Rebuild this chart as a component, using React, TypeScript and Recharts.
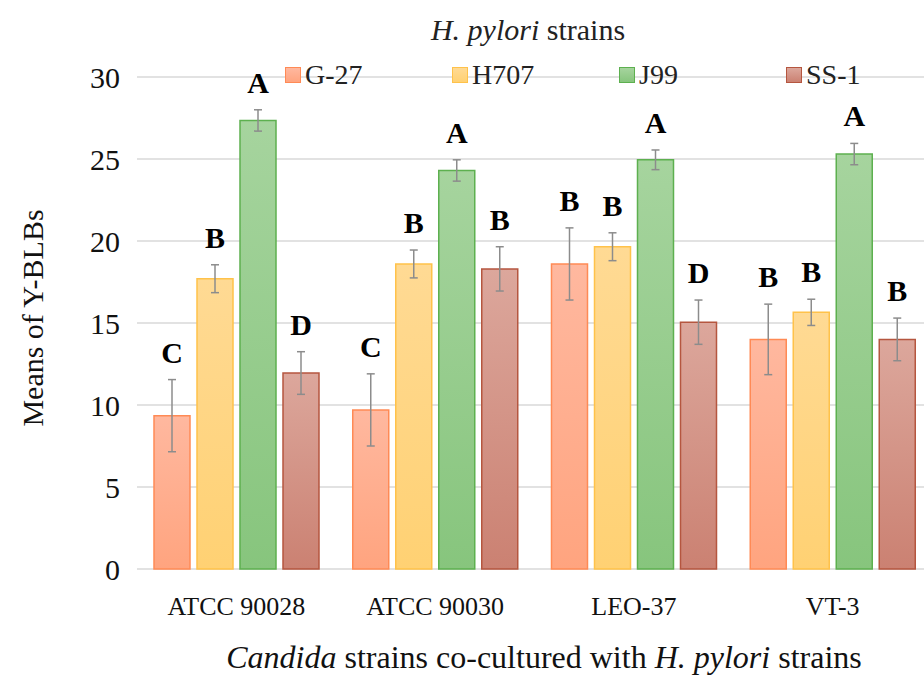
import React from "react";
import {
  Bar,
  BarChart,
  CartesianGrid,
  ErrorBar,
  Label,
  LabelList,
  Legend,
  XAxis,
  YAxis,
} from "recharts";

const strains = ["ATCC 90028", "ATCC 90030", "LEO-37", "VT-3"];

const g27 = [9.35, 9.7, 18.6, 14.0];
const h707 = [17.7, 18.6, 19.65, 15.65];
const j99 = [27.35, 24.3, 24.95, 25.3];
const ss1 = [11.95, 18.3, 15.05, 14.0];

const g27Err = [2.2, 2.2, 2.2, 2.15];
const h707Err = [0.85, 0.85, 0.85, 0.8];
const j99Err = [0.65, 0.65, 0.6, 0.65];
const ss1Err = [1.3, 1.35, 1.35, 1.3];

const g27Sig = ["C", "C", "B", "B"];
const h707Sig = ["B", "B", "B", "B"];
const j99Sig = ["A", "A", "A", "A"];
const ss1Sig = ["D", "B", "D", "B"];

const yTicks = [0, 5, 10, 15, 20, 25, 30];

const FONT = "Liberation Serif";

const series = [
  { key: "g27", name: "G-27", vals: g27, errs: g27Err, sig: g27Sig, top: "#FFB89F", bottom: "#FFA47F", stroke: "#FF8A55" },
  { key: "h707", name: "H707", vals: h707, errs: h707Err, sig: h707Sig, top: "#FFDA94", bottom: "#FFD173", stroke: "#FFC24A" },
  { key: "j99", name: "J99", vals: j99, errs: j99Err, sig: j99Sig, top: "#A6D49E", bottom: "#87C57D", stroke: "#5DB04F" },
  { key: "ss1", name: "SS-1", vals: ss1, errs: ss1Err, sig: ss1Sig, top: "#DCA79C", bottom: "#CB8172", stroke: "#B5563F" },
];

const data = strains.map((strain, i) => {
  const row: Record<string, string | number> = { strain };
  series.forEach((s) => {
    row[s.key] = s.vals[i];
    row[s.key + "Err"] = s.errs[i];
    row[s.key + "Sig"] = s.sig[i];
  });
  return row;
});

// letter sits above the error bar: offset from bar top using the bar's own px/unit
const sigLabel = (vals: number[], errs: number[]) => (props: any) => {
  const { x, y, width, height, value, index } = props;
  const v = vals[index];
  const pxPerUnit = v ? Math.abs(height) / v : 0;
  const ty = y - errs[index] * pxPerUnit - 17;
  return (
    <text
      x={x + width / 2}
      y={ty}
      textAnchor="middle"
      fontFamily={FONT}
      fontWeight="bold"
      fontSize={30}
      fill="#000"
    >
      {value}
    </text>
  );
};

const LegendBox = (props: any) => {
  const payload = props.payload || [];
  return (
    <div style={{ position: "relative", height: 0, fontFamily: FONT, color: "#222" }}>
      <div
        style={{
          position: "absolute",
          top: 14,
          left: 378,
          width: 300,
          textAlign: "center",
          fontSize: 30,
          lineHeight: "32px",
          whiteSpace: "nowrap",
          fontFamily: FONT,
        }}
      >
        <i>H. pylori</i> strains
      </div>
      <div style={{ position: "absolute", top: 60, left: 285, display: "flex" }}>
        {payload.map((p: any) => {
          const s = series.find((d) => d.key === p.dataKey) || series[0];
          return (
            <div key={s.key} style={{ width: 167, display: "flex", alignItems: "center", height: 30 }}>
              <span
                style={{
                  display: "inline-block",
                  width: 14,
                  height: 14,
                  background: `linear-gradient(${s.top}, ${s.bottom})`,
                  border: `1.5px solid ${s.stroke}`,
                  marginRight: 4,
                }}
              />
              <span style={{ fontSize: 28, lineHeight: "30px", whiteSpace: "nowrap", fontFamily: FONT }}>
                {s.name}
              </span>
            </div>
          );
        })}
      </div>
    </div>
  );
};

export default function App() {
  return (
    <div
      style={{
        position: "absolute",
        left: 0,
        top: 0,
        width: 924,
        height: 677,
        overflow: "hidden",
        background: "#fff",
      }}
    >
      <BarChart
        width={932}
        height={677}
        data={data}
        margin={{ top: 77, right: 0, bottom: 0, left: 0 }}
        barSize={36}
        barGap={7}
      >
        <defs>
          {series.map((s) => (
            <linearGradient key={s.key} id={`grad-${s.key}`} x1="0" y1="0" x2="0" y2="1">
              <stop offset="0%" stopColor={s.top} />
              <stop offset="100%" stopColor={s.bottom} />
            </linearGradient>
          ))}
        </defs>
        <CartesianGrid vertical={false} stroke="#D9D9D9" strokeWidth={1.5} />
        <XAxis
          dataKey="strain"
          axisLine={false}
          tickLine={false}
          height={108}
          tickMargin={22}
          interval={0}
          tick={{ fontSize: 26, fill: "#111", fontFamily: FONT }}
        >
          <Label
            content={(p: any) => {
              const vb = p.viewBox || { x: 137, y: 569 };
              return (
                <text x={544} y={vb.y + 99} textAnchor="middle" fontFamily={FONT} fontSize={32} fill="#111">
                  <tspan fontStyle="italic">Candida</tspan>
                  <tspan> strains co-cultured with </tspan>
                  <tspan fontStyle="italic">H. pylori</tspan>
                  <tspan> strains</tspan>
                </text>
              );
            }}
          />
        </XAxis>
        <YAxis
          type="number"
          domain={[0, 30]}
          ticks={yTicks}
          axisLine={false}
          tickLine={false}
          width={137}
          tickMargin={11}
          tick={{ fontSize: 30, fill: "#111", fontFamily: FONT }}
        >
          <Label
            content={(p: any) => {
              const vb = p.viewBox || { x: 0, y: 77, height: 492 };
              const cx = vb.x + 43;
              const cy = vb.y + vb.height / 2 - 5;
              return (
                <text
                  x={cx}
                  y={cy}
                  transform={`rotate(-90 ${cx} ${cy})`}
                  textAnchor="middle"
                  fontFamily={FONT}
                  fontSize={30}
                  fill="#111"
                >
                  Means of Y-BLBs
                </text>
              );
            }}
          />
        </YAxis>
        <Legend
          verticalAlign="top"
          content={<LegendBox />}
          wrapperStyle={{ top: 0, left: 0, width: 924, height: 0 }}
        />
        {series.map((s) => (
          <Bar
            key={s.key}
            dataKey={s.key}
            name={s.name}
            fill={`url(#grad-${s.key})`}
            stroke={s.stroke}
            strokeWidth={1.5}
            isAnimationActive={false}
          >
            <ErrorBar dataKey={s.key + "Err"} width={4} stroke="#8C8C8C" strokeWidth={1.5} />
            <LabelList dataKey={s.key + "Sig"} content={sigLabel(s.vals, s.errs)} />
          </Bar>
        ))}
      </BarChart>
    </div>
  );
}
